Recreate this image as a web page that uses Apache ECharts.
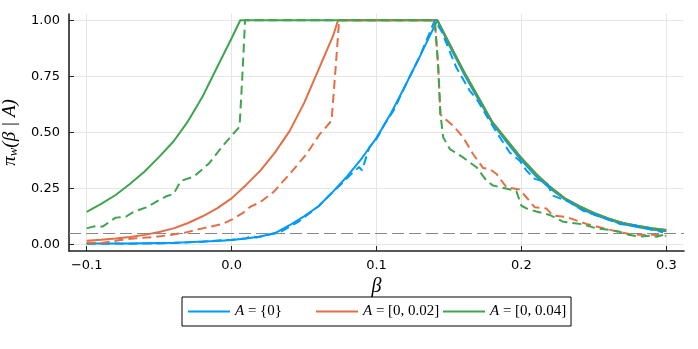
<!DOCTYPE html>
<html>
<head>
<meta charset="utf-8">
<script src="https://cdn.jsdelivr.net/npm/echarts@6/dist/echarts.min.js"></script>
<style>
html, body { margin: 0; padding: 0; background: #fff; }
#chart { width: 698px; height: 349px; }
</style>
</head>
<body>
<div id="chart"></div>
<script>
var xTicks = [-0.1, 0, 0.1, 0.2, 0.3];
var yTicks = [0, 0.25, 0.5, 0.75, 1];
var threshold = 0.05;
var names = ['A = {0}', 'A = [0, 0.02]', 'A = [0, 0.04]'];

// solid curves
var betaBlue = [-0.1, -0.09, -0.08, -0.07, -0.06, -0.05, -0.04, -0.03, -0.02, -0.01, 0, 0.01, 0.02, 0.03, 0.04, 0.05, 0.06, 0.07, 0.08, 0.09, 0.1, 0.11, 0.12, 0.13, 0.142, 0.15, 0.16, 0.17, 0.18, 0.19, 0.2, 0.21, 0.22, 0.23, 0.24, 0.25, 0.26, 0.27, 0.28, 0.29, 0.3];
var piBlue = [0.003, 0.003, 0.004, 0.004, 0.005, 0.006, 0.007, 0.009, 0.012, 0.015, 0.019, 0.026, 0.035, 0.05, 0.085, 0.125, 0.17, 0.235, 0.305, 0.385, 0.475, 0.585, 0.71, 0.84, 1.0, 0.89, 0.765, 0.65, 0.54, 0.455, 0.375, 0.305, 0.248, 0.2, 0.163, 0.133, 0.11, 0.09, 0.077, 0.066, 0.058];

var betaOrange = [-0.1, -0.09, -0.08, -0.07, -0.06, -0.05, -0.04, -0.03, -0.02, -0.01, 0, 0.01, 0.02, 0.03, 0.04, 0.05, 0.06, 0.07, 0.0735, 0.142, 0.15, 0.16, 0.17, 0.18, 0.19, 0.2, 0.21, 0.22, 0.23, 0.24, 0.25, 0.26, 0.27, 0.28, 0.29, 0.3];
var piOrange = [0.016, 0.02, 0.026, 0.033, 0.042, 0.055, 0.071, 0.095, 0.125, 0.16, 0.205, 0.265, 0.33, 0.41, 0.505, 0.63, 0.78, 0.93, 1.0, 1.0, 0.9, 0.775, 0.66, 0.545, 0.465, 0.385, 0.315, 0.255, 0.205, 0.17, 0.14, 0.115, 0.095, 0.083, 0.072, 0.064];

var betaGreen = [-0.1, -0.09, -0.08, -0.07, -0.06, -0.05, -0.04, -0.03, -0.02, -0.01, 0, 0.006, 0.142, 0.15, 0.16, 0.17, 0.18, 0.19, 0.2, 0.21, 0.22, 0.23, 0.24, 0.25, 0.26, 0.27, 0.28, 0.29, 0.3];
var piGreen = [0.145, 0.18, 0.22, 0.27, 0.325, 0.39, 0.46, 0.55, 0.66, 0.79, 0.92, 1.0, 1.0, 0.9, 0.775, 0.66, 0.545, 0.465, 0.385, 0.315, 0.255, 0.205, 0.17, 0.14, 0.115, 0.095, 0.083, 0.072, 0.064];

// dashed (empirical) curves
var betaBlueEmp = [-0.1, -0.09, -0.08, -0.07, -0.06, -0.05, -0.04, -0.03, -0.02, -0.01, 0, 0.005, 0.01, 0.014, 0.017, 0.022, 0.027, 0.032, 0.036, 0.041, 0.046, 0.052, 0.06, 0.068, 0.075, 0.082, 0.088, 0.09, 0.092, 0.095, 0.1, 0.106, 0.112, 0.12, 0.13, 0.1402, 0.145, 0.15, 0.155, 0.1643, 0.17, 0.1759, 0.1828, 0.1919, 0.1988, 0.2034, 0.2092, 0.2172, 0.2218, 0.2333, 0.2425, 0.2494, 0.258, 0.2678, 0.2793, 0.2908, 0.2977];
var piBlueEmp = [0.002, 0.002, 0.003, 0.002, 0.004, 0.004, 0.006, 0.009, 0.011, 0.017, 0.02, 0.022, 0.027, 0.037, 0.03, 0.038, 0.045, 0.05, 0.063, 0.082, 0.1, 0.13, 0.17, 0.222, 0.265, 0.31, 0.345, 0.33, 0.37, 0.433, 0.47, 0.54, 0.6, 0.71, 0.84, 1.0, 0.95, 0.87, 0.79, 0.686, 0.64, 0.574, 0.5, 0.41, 0.373, 0.33, 0.292, 0.277, 0.217, 0.188, 0.15, 0.135, 0.115, 0.091, 0.083, 0.064, 0.054];

var betaOrangeEmp = [-0.1, -0.09, -0.083, -0.077, -0.066, -0.055, -0.043, -0.032, -0.02, -0.0065, 0.0004, 0.0073, 0.0131, 0.0195, 0.0287, 0.0402, 0.0517, 0.0609, 0.069, 0.072, 0.0742, 0.1402, 0.1425, 0.1441, 0.146, 0.1528, 0.1597, 0.1666, 0.1735, 0.1781, 0.1828, 0.1897, 0.1988, 0.2034, 0.2092, 0.2172, 0.2218, 0.231, 0.2448, 0.254, 0.2678, 0.277, 0.2908, 0.3];
var piOrangeEmp = [0.007, 0.006, 0.012, 0.019, 0.027, 0.031, 0.041, 0.052, 0.071, 0.09, 0.111, 0.138, 0.168, 0.187, 0.232, 0.314, 0.403, 0.492, 0.552, 0.805, 1.0, 1.0, 0.805, 0.58, 0.567, 0.53, 0.478, 0.403, 0.341, 0.336, 0.314, 0.254, 0.245, 0.21, 0.165, 0.16, 0.128, 0.122, 0.091, 0.076, 0.054, 0.043, 0.043, 0.038];

var betaGreenEmp = [-0.1, -0.095, -0.089, -0.08, -0.073, -0.0685, -0.064, -0.059, -0.0455, -0.04, -0.035, -0.026, -0.0156, -0.0065, 0.0004, 0.0055, 0.0075, 0.0093, 0.1402, 0.1425, 0.1441, 0.146, 0.1506, 0.1597, 0.169, 0.1759, 0.1804, 0.1942, 0.1965, 0.2, 0.2035, 0.2103, 0.2195, 0.2287, 0.2425, 0.2517, 0.2609, 0.267, 0.2747, 0.2816, 0.2886, 0.2932, 0.2977];
var piGreenEmp = [0.071, 0.08, 0.079, 0.119, 0.123, 0.141, 0.153, 0.165, 0.213, 0.225, 0.283, 0.302, 0.361, 0.436, 0.488, 0.525, 0.76, 1.0, 1.0, 0.8, 0.582, 0.478, 0.425, 0.388, 0.344, 0.284, 0.262, 0.242, 0.238, 0.172, 0.16, 0.146, 0.131, 0.101, 0.089, 0.071, 0.064, 0.057, 0.041, 0.034, 0.038, 0.034, 0.041];

var colors = ['#009AFA', '#E36F47', '#3EA44E'];

function zip(xs, ys) {
    return xs.map(function (x, i) { return [x, ys[i]]; });
}

function line(name, xs, ys, color, dashed, z) {
    return {
        name: name,
        type: 'line',
        data: zip(xs, ys),
        showSymbol: false,
        symbol: 'none',
        z: z,
        lineStyle: { color: color, width: 2, type: dashed ? [9, 5] : 'solid' },
        itemStyle: { color: color },
        emphasis: { disabled: true },
        animation: false
    };
}

// one legend per column so the columns keep equal widths;
// the first one carries the frame round all three
function legendItem(i, left, padding, framed) {
    return {
        data: [names[i]],
        left: left,
        top: 297,
        selectedMode: false,
        icon: 'rect',
        itemWidth: 42,
        itemHeight: 2,
        padding: padding,
        borderColor: '#000',
        borderWidth: framed ? 1 : 0,
        z: framed ? 4 : 5,
        textStyle: {
            fontFamily: 'Liberation Serif',
            fontSize: 15,
            color: '#000',
            rich: {
                i: { fontFamily: 'Liberation Serif', fontStyle: 'italic', fontSize: 15, color: '#000' }
            }
        },
        formatter: function (name) {
            return '{i|A}' + name.slice(1);
        }
    };
}

var chart = echarts.init(document.getElementById('chart'));
var series = [
    line(names[0], betaBlue, piBlue, colors[0], false, 2),
    line(names[1], betaOrange, piOrange, colors[1], false, 3),
    line(names[2], betaGreen, piGreen, colors[2], false, 4),
    line('emp0', betaBlueEmp, piBlueEmp, colors[0], true, 5),
    line('emp1', betaOrangeEmp, piOrangeEmp, colors[1], true, 6),
    line('emp2', betaGreenEmp, piGreenEmp, colors[2], true, 7)
];
series[0].markLine = {
    silent: true,
    symbol: 'none',
    label: { show: false },
    lineStyle: { color: '#888', width: 1.2, type: [12, 5] },
    data: [{ yAxis: threshold }],
    animation: false
};

chart.setOption({
    animation: false,
    grid: { left: 69, right: 14, top: 14, bottom: 98, outerBoundsMode: 'none', containLabel: false },
    legend: [
        legendItem(0, 182, [7, 289, 7, 6], true),
        legendItem(1, 316, [7, 0, 7, 0], false),
        legendItem(2, 443, [7, 0, 7, 0], false)
    ],
    xAxis: {
        type: 'value',
        min: -0.1122,
        max: 0.3122,
        name: 'β',
        nameLocation: 'middle',
        nameGap: 22,
        nameTextStyle: { fontFamily: 'Liberation Serif', fontStyle: 'italic', fontSize: 20, color: '#000' },
        axisLine: { onZero: false, lineStyle: { color: '#222', width: 1.6 } },
        axisTick: { inside: true, length: 5, customValues: xTicks, lineStyle: { color: '#222' } },
        axisLabel: {
            customValues: xTicks,
            margin: 8,
            fontFamily: 'DejaVu Sans',
            fontSize: 13,
            color: '#000',
            formatter: function (v) { return v < 0 ? '\u2212' + Math.abs(v).toFixed(1) : v.toFixed(1); }
        },
        splitLine: { show: true, lineStyle: { color: '#e6e6e6', width: 1 } }
    },
    yAxis: {
        type: 'value',
        min: -0.03,
        max: 1.028,
        name: 'π{s|w}(β | A)',
        nameLocation: 'middle',
        nameGap: 37,
        nameRotate: 90,
        nameTextStyle: {
            fontFamily: 'Liberation Serif',
            fontStyle: 'italic',
            fontSize: 19,
            color: '#000',
            rich: {
                s: { fontFamily: 'Liberation Serif', fontStyle: 'italic', fontSize: 13, color: '#000', padding: [8, 0, 0, 0] }
            }
        },
        axisLine: { show: true, onZero: false, lineStyle: { color: '#222', width: 1.6 } },
        axisTick: { show: true, inside: true, length: 5, customValues: yTicks, lineStyle: { color: '#222' } },
        axisLabel: {
            customValues: yTicks,
            margin: 9,
            fontFamily: 'DejaVu Sans',
            fontSize: 13,
            color: '#000',
            formatter: function (v) { return v.toFixed(2); }
        },
        splitLine: { show: true, lineStyle: { color: '#e6e6e6', width: 1 } }
    },
    series: series
});
</script>
</body>
</html>
